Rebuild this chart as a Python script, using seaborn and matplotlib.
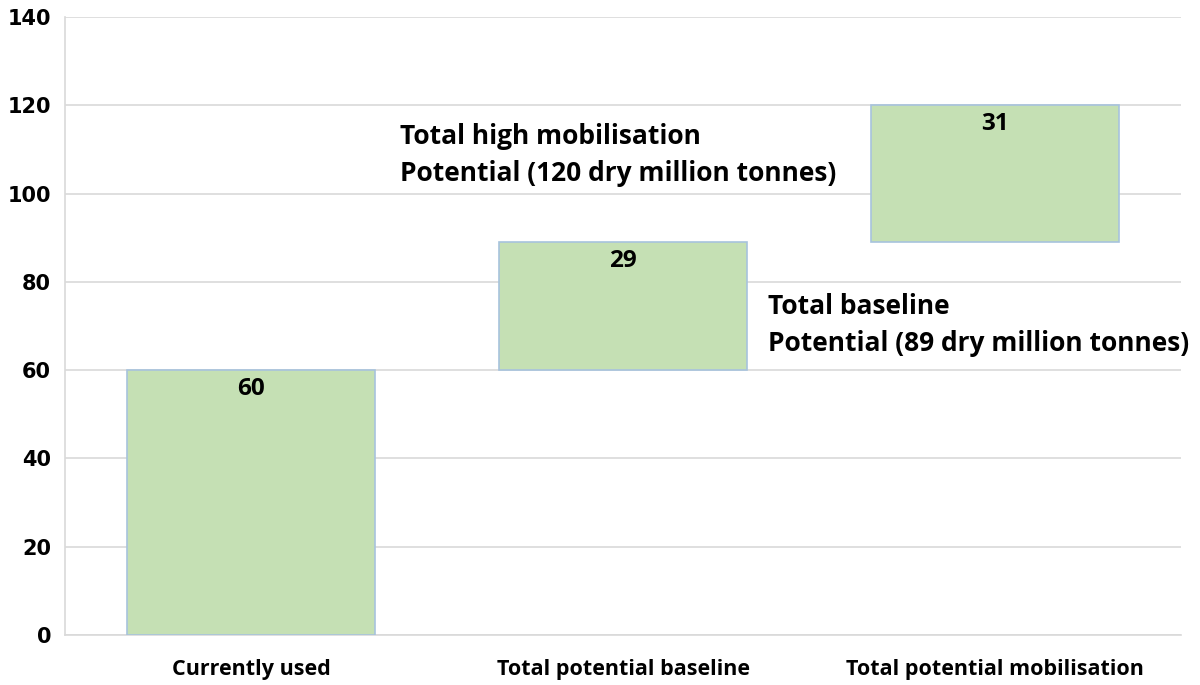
import pandas as pd
import numpy as np
import seaborn as sns
import matplotlib.pyplot as plt

# data
categories = ["Currently used", "Total potential baseline", "Total potential mobilisation"]
increments = [60, 29, 31]
bases = [0, 60, 89]
y_ticks = [0, 20, 40, 60, 80, 100, 120, 140]

df = pd.DataFrame({"category": categories, "value": increments, "base": bases})

sns.set_style("white")
plt.rcParams["font.family"] = ["Open Sans", "DejaVu Sans"]
plt.rcParams["text.color"] = "black"
plt.rcParams["xtick.color"] = "black"
plt.rcParams["ytick.color"] = "black"

fig = plt.figure(figsize=(12, 6.85), dpi=100)
ax = fig.add_axes([0.0542, 0.073, 0.9300, 0.902])

sns.barplot(data=df, x="category", y="value", color="#C5E0B4", saturation=1,
            width=0.667, edgecolor="#A7C3DD", linewidth=1.2, ax=ax, zorder=3)

# float each bar on its base (waterfall)
for patch, b, v in zip(ax.patches, df["base"], df["value"]):
    patch.set_y(b)
    cx = patch.get_x() + patch.get_width() / 2
    ax.text(cx, b + v - 1.6, str(v), ha="center", va="top",
            fontsize=17.5, fontweight="bold", color="black", zorder=4)

ax.set_xlim(-0.5, 2.5)
ax.set_ylim(0, 140)
ax.set_yticks(y_ticks)
ax.set_yticklabels([str(t) for t in y_ticks], family="DejaVu Sans",
                   fontweight="bold", fontsize=15)
ax.set_xticks(range(len(categories)))
ax.set_xticklabels(categories, fontweight="bold", fontsize=15.5)
ax.tick_params(axis="y", length=0, pad=10)
ax.tick_params(axis="x", length=0, pad=17)
ax.set_xlabel("")
ax.set_ylabel("")

ax.yaxis.grid(True, color="#D9D9D9", linewidth=1.2, zorder=0)
ax.set_axisbelow(True)
for s in ["top", "right"]:
    ax.spines[s].set_visible(False)
for s in ["left", "bottom"]:
    ax.spines[s].set_color("#D9D9D9")
    ax.spines[s].set_linewidth(1.2)

# annotations
ax.text(0.40, 108.8, "Total high mobilisation\nPotential (120 dry million tonnes)",
        ha="left", va="center", fontsize=19, fontweight="bold", linespacing=1.45)
ax.text(1.39, 70.2, "Total baseline\nPotential (89 dry million tonnes)",
        ha="left", va="center", fontsize=19, fontweight="bold", linespacing=1.45)

fig.savefig("out.png", dpi=100)
